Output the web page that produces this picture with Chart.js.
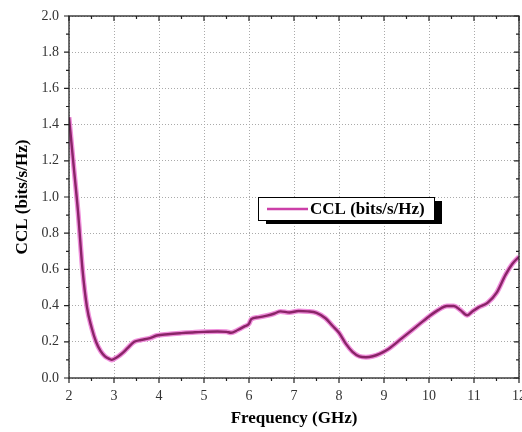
<!DOCTYPE html>
<html>
<head>
<meta charset="utf-8">
<script src="https://cdn.jsdelivr.net/npm/chart.js@4"></script>
<style>
  html, body { margin: 0; padding: 0; background: #fff; }
  #wrap { width: 522px; height: 432px; }
</style>
</head>
<body>
<div id="wrap"><canvas id="grafico" width="522" height="432"></canvas></div>
<script>
// dados
const freq = [2, 2.1, 2.2, 2.3, 2.4, 2.5, 2.6, 2.7, 2.8, 2.9, 2.95, 3.0, 3.1, 3.2, 3.3, 3.45, 3.6, 3.8, 3.95, 4.2, 4.5, 4.8, 5.0, 5.3, 5.5, 5.6, 5.75, 5.9, 6.0, 6.05, 6.2, 6.4, 6.55, 6.7, 6.9, 7.1, 7.3, 7.5, 7.7, 7.85, 8.0, 8.15, 8.3, 8.45, 8.6, 8.75, 8.9, 9.1, 9.4, 9.7, 10.0, 10.2, 10.4, 10.55, 10.7, 10.85, 10.95, 11.1, 11.3, 11.5, 11.7, 11.85, 12];
const ccl = [1.44, 1.18, 0.92, 0.6, 0.39, 0.28, 0.2, 0.15, 0.12, 0.105, 0.1, 0.105, 0.12, 0.14, 0.165, 0.2, 0.21, 0.22, 0.235, 0.242, 0.248, 0.253, 0.255, 0.257, 0.255, 0.25, 0.265, 0.285, 0.3, 0.325, 0.335, 0.345, 0.355, 0.368, 0.362, 0.37, 0.368, 0.36, 0.33, 0.29, 0.25, 0.19, 0.145, 0.12, 0.115, 0.12, 0.133, 0.16, 0.22, 0.28, 0.34, 0.375, 0.398, 0.398, 0.375, 0.347, 0.365, 0.39, 0.415, 0.47, 0.57, 0.63, 0.67];
const xTicks = [2, 3, 4, 5, 6, 7, 8, 9, 10, 11, 12];
const yTicks = [0, 0.2, 0.4, 0.6, 0.8, 1.0, 1.2, 1.4, 1.6, 1.8, 2.0];
const serieNome = 'CCL (bits/s/Hz)';

const pontos = freq.map((f, i) => ({ x: f, y: ccl[i] }));
const FONTE = '"Liberation Serif", "Times New Roman", serif';

// moldura + ticks (maiores e menores) desenhados pelas escalas
const molduraPlugin = {
    id: 'moldura',
    afterDraw(chart) {
        const { ctx, chartArea: a, scales: { x, y } } = chart;
        ctx.save();
        ctx.strokeStyle = '#222';
        ctx.lineWidth = 1.3;
        ctx.strokeRect(a.left, a.top, a.right - a.left, a.bottom - a.top);
        ctx.lineWidth = 1.2;
        ctx.beginPath();
        for (let v = 2; v <= 12.001; v += 0.5) {
            const px = x.getPixelForValue(v);
            const len = Math.abs(v - Math.round(v)) < 0.01 ? 5 : 3;
            ctx.moveTo(px, a.bottom); ctx.lineTo(px, a.bottom + len);
            ctx.moveTo(px, a.top); ctx.lineTo(px, a.top + len);
        }
        for (let k = 0; k <= 20; k++) {
            const v = k / 10;
            const py = y.getPixelForValue(v);
            const len = k % 2 === 0 ? 5 : 3;
            ctx.moveTo(a.left, py); ctx.lineTo(a.left - len, py);
            ctx.moveTo(a.right, py); ctx.lineTo(a.right - len, py);
        }
        ctx.stroke();

        // legenda com sombra
        const bx = Math.round(x.getPixelForValue(6.2)), by = Math.round(y.getPixelForValue(1.0));
        const bw = 176, bh = 23;
        ctx.fillStyle = '#000';
        ctx.fillRect(bx + 8, by + 4, bw, bh);
        ctx.fillStyle = '#fff';
        ctx.fillRect(bx, by, bw, bh);
        ctx.strokeStyle = '#000';
        ctx.lineWidth = 1;
        ctx.strokeRect(bx + 0.5, by + 0.5, bw, bh);
        ctx.strokeStyle = '#cc3fa8';
        ctx.lineWidth = 2.5;
        ctx.beginPath();
        ctx.moveTo(bx + 9, by + 12); ctx.lineTo(bx + 50, by + 12);
        ctx.stroke();
        ctx.fillStyle = '#000';
        ctx.font = 'bold 17px ' + FONTE;
        ctx.textBaseline = 'middle';
        ctx.fillText(serieNome, bx + 52, by + 12.5);
        ctx.restore();
    }
};

new Chart(document.getElementById('grafico'), {
    type: 'line',
    data: {
        datasets: [
            { label: serieNome, data: pontos, borderColor: '#8a2468', borderWidth: 2.4, pointRadius: 0, tension: 0.4, cubicInterpolationMode: 'monotone' },
            { data: pontos, borderColor: '#f090dc', borderWidth: 5, pointRadius: 0, tension: 0.4, cubicInterpolationMode: 'monotone' }
        ]
    },
    options: {
        responsive: false,
        animation: false,
        layout: { padding: { top: 16, right: 3, left: 0, bottom: 0 } },
        plugins: { legend: { display: false }, tooltip: { enabled: false } },
        scales: {
            x: {
                type: 'linear', min: 2, max: 12,
                afterBuildTicks: s => { s.ticks = xTicks.map(v => ({ value: v })); },
                afterFit: s => { s.height = 54; s.paddingLeft = 0; s.paddingRight = 0; },
                grid: { color: '#aaa', drawTicks: false, lineWidth: 1 },
                border: { display: false, dash: [1, 2] },
                ticks: { color: '#333', font: { family: FONTE, size: 14 }, padding: 10 },
                title: { display: true, text: 'Frequency (GHz)', color: '#000', font: { family: FONTE, size: 17, weight: 'bold' }, padding: { top: 0, bottom: 3 } }
            },
            y: {
                type: 'linear', min: 0, max: 2,
                afterBuildTicks: s => { s.ticks = yTicks.map(v => ({ value: v })); },
                afterFit: s => { s.width = 69; s.paddingTop = 0; s.paddingBottom = 0; },
                grid: { color: '#aaa', drawTicks: false, lineWidth: 1 },
                border: { display: false, dash: [1, 2] },
                ticks: { color: '#333', font: { family: FONTE, size: 14 }, padding: 10, callback: v => v.toFixed(1) },
                title: { display: true, text: 'CCL (bits/s/Hz)', color: '#000', font: { family: FONTE, size: 17, weight: 'bold' }, padding: { top: 12, bottom: 0 } }
            }
        }
    },
    plugins: [molduraPlugin]
});
</script>
</body>
</html>
